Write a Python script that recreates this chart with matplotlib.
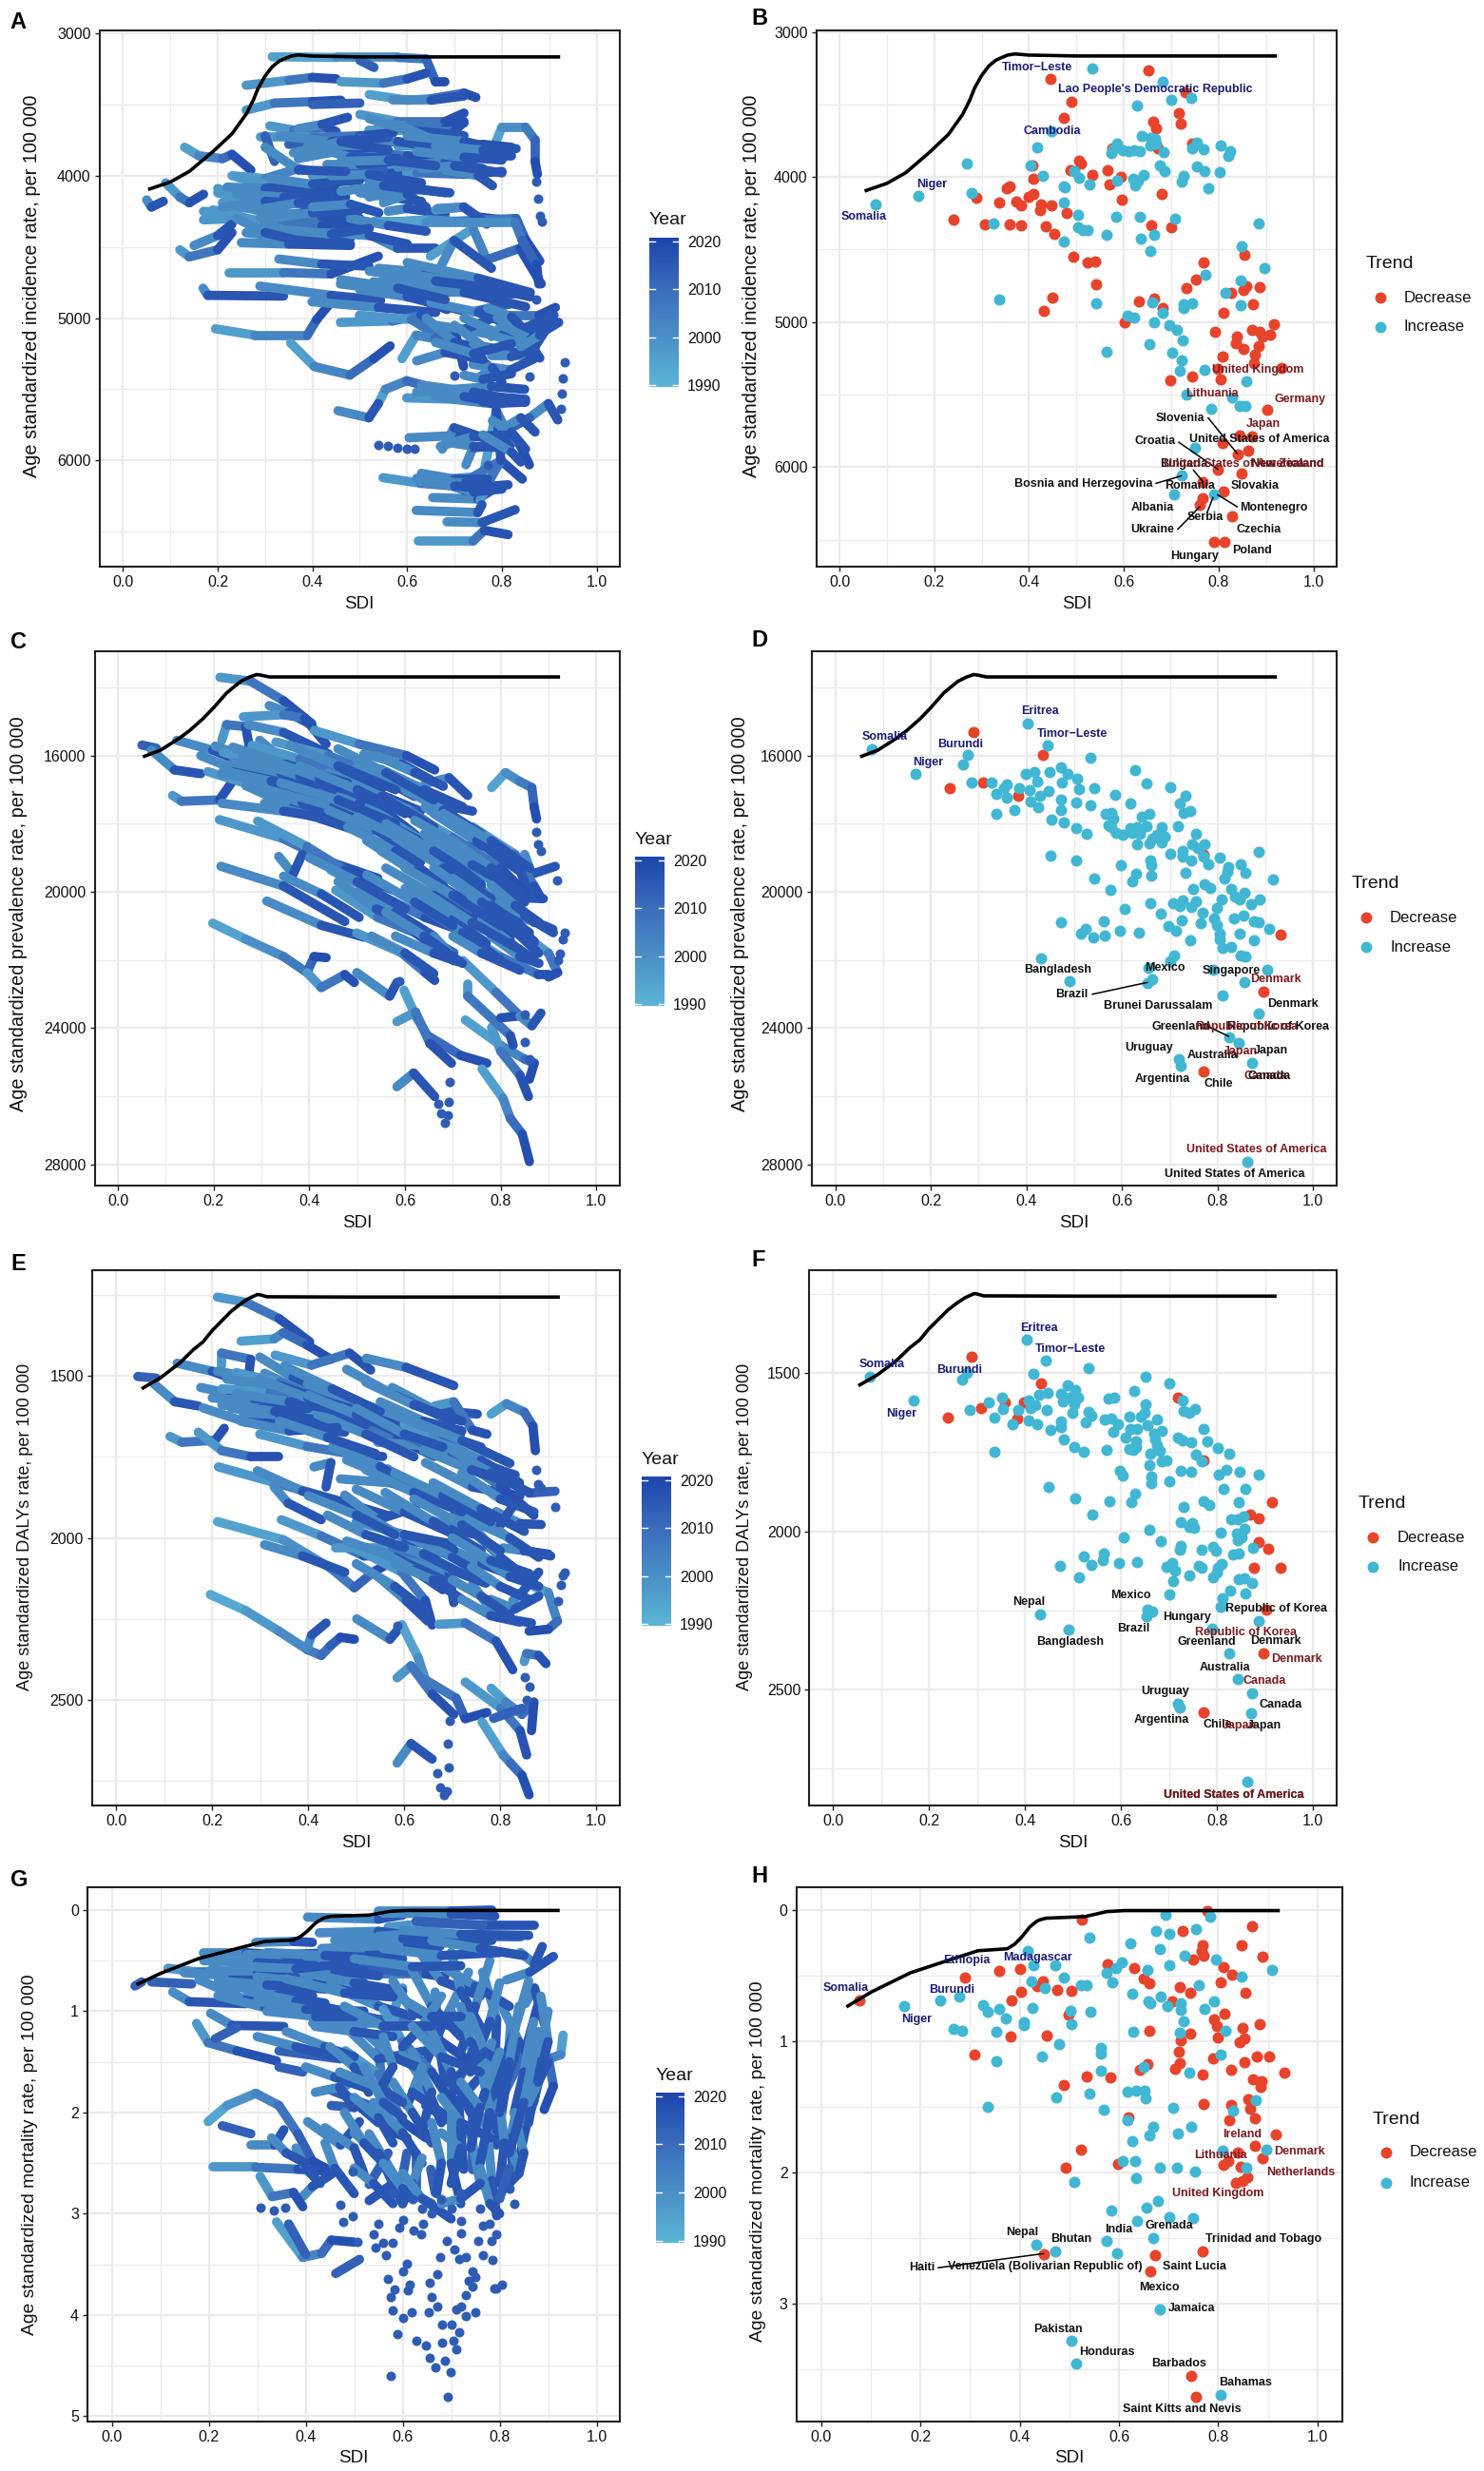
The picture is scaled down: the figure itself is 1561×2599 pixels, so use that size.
import numpy as np
import matplotlib
matplotlib.use('Agg')
import matplotlib.pyplot as plt
from matplotlib.collections import LineCollection
from matplotlib.colors import LinearSegmentedColormap, Normalize
from matplotlib.cm import ScalarMappable
from matplotlib.lines import Line2D

plt.rcParams['font.family'] = ['Liberation Sans', 'DejaVu Sans']

# black fitted curves, one per burden measure
curve_inc = [(.053,4097),(.10,4044),(.14,3970),(.19,3830),(.23,3706),(.26,3568),(.275,3470),(.285,3388),(.30,3300),(.315,3235),(.33,3195),(.34,3180),(.355,3160),(.37,3152),(.40,3160),(.50,3166),(.923,3166)]
curve_prev = [(.052,16035),(.089,15840),(.128,15490),(.15,15260),(.178,14910),(.20,14590),(.227,14160),(.245,13950),(.257,13815),(.275,13690),(.29,13620),(.30,13640),(.316,13690),(.50,13690),(.924,13690)]
curve_daly = [(.053,1540),(.093,1505),(.132,1461),(.16,1420),(.181,1395),(.20,1360),(.22,1330),(.24,1300),(.26,1277),(.275,1262),(.294,1249),(.30,1250),(.314,1256),(.50,1257),(.924,1257)]
curve_mort = [(.051,.738),(.101,.625),(.18,.478),(.258,.381),(.316,.31),(.375,.295),(.39,.26),(.404,.206),(.42,.13),(.433,.089),(.44,.075),(.453,.062),(.531,.05),(.56,.025),(.575,.012),(.61,.004),(.924,.004)]

# country paths 1990 -> 2019 (SDI, rate)
traj_a = [
 [(.315,3165),(.45,3170),(.58,3170),(.64,3180),(.66,3340),(.68,3340)],
 [(.50,3190),(.53,3240)],
 [(.26,3365),(.35,3330),(.40,3310),(.45,3320)],
 [(.46,3340),(.55,3350),(.60,3320),(.64,3280)],
 [(.26,3540),(.32,3490),(.40,3480),(.46,3470)],
 [(.40,3500),(.50,3490)],
 [(.52,3430),(.60,3470),(.65,3460),(.72,3420),(.745,3450)],
 [(.57,3470),(.65,3470),(.72,3440)],
 [(.31,3650),(.36,3680),(.43,3660),(.45,3690)],
 [(.37,3670),(.42,3640),(.474,3590)],
 [(.50,3570),(.58,3620),(.68,3620),(.72,3560)],
 [(.54,3640),(.60,3650),(.68,3670),(.72,3630)],
 [(.52,3680),(.60,3680),(.70,3690),(.72,3620)],
 [(.78,3820),(.80,3660),(.85,3660),(.87,3750),(.87,3900),(.875,3990)],
 [(.29,3730),(.40,3730),(.50,3720),(.57,3700)],
 [(.58,3790),(.70,3800),(.76,3780),(.82,3800)],
 [(.70,3850),(.76,3860),(.82,3860)],
 [(.13,3800),(.16,3860),(.21,3880),(.23,3850),(.27,3960)],
 [(.30,3720),(.32,3900)],
 [(.35,3780),(.42,3770)],
 [(.40,3840),(.50,3830),(.60,3860),(.65,3870)],
 [(.52,3950),(.62,3980),(.72,3990),(.80,3970)],
 [(.40,4000),(.50,4000),(.58,3980)],
 [(.23,4000),(.30,4020),(.37,3950),(.43,3990),(.50,3950)],
 [(.45,3930),(.55,3960)],
 [(.24,4010),(.34,4090),(.40,4110),(.45,4100)],
 [(.40,3990),(.50,4010),(.57,4020),(.63,4050)],
 [(.52,4050),(.60,4080),(.68,4120)],
 [(.68,3960),(.75,4000),(.78,4070)],
 [(.09,4050),(.12,4150),(.14,4190),(.17,4130)],
 [(.05,4170),(.06,4220),(.085,4180)],
 [(.17,4250),(.22,4260),(.28,4100),(.36,4060)],
 [(.20,4090),(.25,4150),(.32,4200),(.42,4110)],
 [(.22,4150),(.30,4240),(.36,4280),(.43,4220)],
 [(.28,4210),(.38,4300),(.46,4280)],
 [(.17,4310),(.25,4300),(.32,4330),(.50,4340)],
 [(.53,4320),(.60,4320),(.66,4310)],
 [(.30,4350),(.40,4430),(.48,4480)],
 [(.25,4470),(.35,4480),(.48,4490)],
 [(.15,4490),(.20,4420),(.23,4340)],
 [(.12,4520),(.14,4570),(.20,4520),(.23,4400)],
 [(.53,4430),(.58,4510),(.66,4510)],
 [(.56,4250),(.60,4230),(.68,4270)],
 [(.66,4240),(.72,4220),(.75,4290),(.83,4320)],
 [(.53,4330),(.65,4310),(.70,4320),(.83,4300),(.85,4450),(.88,4600)],
 [(.195,5075),(.279,5120),(.389,5120),(.409,5010),(.434,4910)],
 [(.354,5175),(.404,5340),(.479,5400),(.529,5285),(.564,5195)],
 [(.169,4790),(.179,4840),(.339,4845)],
 [(.224,4680),(.339,4680),(.439,4690),(.539,4565)],
 [(.329,4585),(.419,4620),(.519,4635)],
 [(.289,4775),(.439,4840),(.544,4875)],
 [(.459,4760),(.589,4815),(.684,4940)],
 [(.539,4650),(.639,4680),(.788,4790)],
 [(.529,4745),(.689,4815),(.848,4830)],
 [(.399,4885),(.539,4925),(.66,4960)],
 [(.459,5030),(.569,5020),(.629,4980),(.669,5175)],
 [(.499,4980),(.609,5010),(.689,5175),(.768,5325)],
 [(.589,5285),(.619,5120),(.659,5145),(.699,5065),(.719,5340)],
 [(.739,4955),(.818,4900)],
 [(.778,5130),(.818,4980),(.878,4980),(.913,4925)],
 [(.699,5065),(.798,5130),(.858,5130)],
 [(.778,5260),(.858,5260),(.908,5005)],
 [(.739,5325),(.818,5365),(.868,5285)],
 [(.858,5700),(.898,5600),(.918,5715)],
 [(.828,5755),(.858,5700)],
 [(.649,4565),(.739,4370),(.768,4590),(.838,4510),(.883,4760)],
 [(.669,4650),(.699,4455),(.778,4650)],
 [(.664,4230),(.719,4220),(.768,4340)],
 [(.529,4330),(.639,4330),(.828,4330),(.843,4455),(.873,4620),(.878,4760)],
 [(.539,5600),(.554,5500),(.599,5440),(.689,5520),(.739,5495)],
 [(.454,5650),(.519,5700),(.539,5600)],
 [(.599,5560),(.699,5570),(.778,5600),(.848,5590)],
 [(.62,5520),(.778,5480),(.848,5500)],
 [(.604,5840),(.699,5825),(.818,5840)],
 [(.674,5920),(.699,5770),(.778,5860)],
 [(.724,6030),(.739,5910),(.818,5890)],
 [(.763,6060),(.788,5650),(.808,5780),(.838,5890),(.858,6030)],
 [(.549,6120),(.629,6160),(.739,6190),(.813,6170)],
 [(.629,6145),(.739,6115),(.798,6000),(.843,6130)],
 [(.654,6260),(.749,6270),(.778,6210)],
 [(.754,6280),(.778,6115),(.798,6000),(.788,5650)],
 [(.619,6350),(.749,6365),(.758,6310)],
 [(.684,6430),(.758,6435),(.828,6345)],
 [(.624,6565),(.739,6565),(.763,6490),(.813,6520)],
 [(.20,4120),(.30,4200),(.40,4180),(.47,4150)],
 [(.21,4190),(.32,4270),(.42,4290),(.50,4300)],
 [(.24,4230),(.35,4200),(.44,4170)],
 [(.19,4240),(.30,4330),(.42,4350),(.52,4340)],
 [(.30,4340),(.38,4420),(.48,4440)],
 [(.26,4160),(.33,4110),(.39,4080)],
 [(.29,4290),(.38,4260),(.44,4250)],
 [(.31,4020),(.40,4060),(.50,4030)],
 [(.44,4000),(.52,3990),(.60,4040)],
 [(.37,3880),(.45,3830),(.52,3800)],
 [(.39,3790),(.48,3870),(.58,3880)],
 [(.44,3790),(.52,3790),(.57,3760)],
 [(.50,3740),(.58,3760),(.67,3800)],
 [(.52,3600),(.60,3680),(.72,3720)],
 [(.58,3640),(.65,3740),(.72,3780)],
 [(.43,3920),(.50,3920),(.57,3900)],
 [(.58,3940),(.68,3900),(.76,3950)],
 [(.63,3950),(.70,3930),(.80,3980)],
 [(.50,4120),(.56,4150),(.63,4180)],
 [(.52,4150),(.60,4090),(.69,4120)],
 [(.55,4190),(.60,4130),(.64,4220)],
 [(.48,4300),(.56,4350),(.64,4390)],
 [(.42,4400),(.52,4420),(.60,4480)],
 [(.50,4800),(.60,4850),(.72,4950)],
 [(.55,4720),(.68,4760),(.82,4830)],
 [(.58,4680),(.72,4750),(.86,4850)],
 [(.60,4780),(.72,4820),(.85,4920)],
 [(.65,4890),(.75,4960),(.82,5050)],
 [(.66,5050),(.72,5080),(.78,5000)],
 [(.64,5000),(.70,5170),(.74,5200)],
 [(.70,5050),(.76,5200),(.83,5240)],
 [(.72,5000),(.80,5120),(.88,5100)],
 [(.78,5120),(.84,5180),(.90,5020)],
 [(.80,5200),(.85,5130),(.88,5280)],
 [(.74,5180),(.82,5270),(.87,5210)],
 [(.79,5000),(.84,5080),(.91,4980)],
 [(.77,4930),(.82,4990),(.85,5090)],
 [(.63,6090),(.70,6130),(.77,6130)],
 [(.63,6130),(.72,6160),(.76,6170)],
 [(.64,6160),(.72,6170),(.78,6180)],
 [(.66,5510),(.74,5540),(.85,5570)],
 [(.63,5470),(.74,5520),(.85,5590)],
 [(.66,5550),(.76,5590),(.82,5560)],
 [(.75,5420),(.78,5350),(.80,5450)],
 [(.72,5400),(.76,5430),(.82,5390)],
 [(.80,5780),(.84,5700),(.87,5800)],
 [(.78,5720),(.82,5800),(.85,5920)],
 [(.70,5880),(.74,5900),(.80,5910)],
 [(.33,3720),(.44,3760),(.56,3730)],
 [(.36,3840),(.46,3760),(.56,3820)],
 [(.30,3800),(.37,3960),(.47,3970)],
 [(.46,3900),(.56,3890),(.66,3930)],
 [(.60,3720),(.72,3760),(.82,3830)],
 [(.66,3790),(.76,3820),(.83,3810)],
 [(.62,3830),(.72,3870),(.80,3890)],
 [(.22,4080),(.30,4090),(.36,4140)],
 [(.24,4130),(.34,4150),(.44,4130)],
 [(.21,4220),(.30,4180),(.41,4200)],
 [(.28,4240),(.37,4190),(.46,4220)],
 [(.31,4300),(.40,4260),(.50,4240)],
 [(.26,4400),(.38,4440),(.47,4470)],
 [(.34,4380),(.44,4410),(.52,4370)],
 [(.24,4300),(.30,4400),(.40,4480)],
 [(.46,4110),(.55,4070),(.62,4100)],
 [(.40,4220),(.48,4200),(.54,4260)],
 [(.60,4610),(.75,4720),(.86,4820)],
 [(.52,4670),(.66,4740),(.78,4790)],
 [(.46,4730),(.58,4790),(.68,4870)],
 [(.62,5300),(.68,5240),(.76,5290)],
 [(.66,5170),(.74,5250),(.82,5180)],
 [(.80,5050),(.86,5150),(.92,5030)],
 [(.84,5200),(.88,5120),(.90,5040)],
 [(.64,6100),(.72,6210),(.80,6180)],
 [(.66,6150),(.74,6220),(.80,6200)],
 [(.62,6125),(.70,6180),(.78,6195)],
 [(.67,5900),(.74,5830),(.82,5820)],
 [(.76,5820),(.82,5940),(.84,6010)],
 [(.64,5490),(.72,5550),(.80,5600)],
]
dots_a = [(.876,4160),(.873,4040),(.885,4320),(.88,4280),(.926,5530),(.933,5310),(.928,5420),(.924,5640),(.873,4870),(.858,5410),(.699,5400),(.77,6030),
          (.539,5890),(.56,5900),(.58,5910),(.599,5920),(.615,5920)]

# panel C
traj_c = [
 [(.213,13700),(.277,13815),(.346,14390),(.405,15060)],
 [(.316,14530),(.356,14740),(.405,15100)],
 [(.262,14860),(.346,14800),(.39,14900),(.435,15660)],
 [(.217,15550),(.227,15090),(.267,15150),(.277,15950)],
 [(.272,15090),(.346,15320),(.44,15950)],
 [(.41,15260),(.504,15660),(.603,16000),(.662,16420)],
 [(.514,15950),(.593,16240),(.652,16700)],
 [(.05,15690),(.08,15780)],
 [(.07,15840),(.118,16420),(.173,16530)],
 [(.123,15550),(.198,15840),(.272,16270)],
 [(.114,17170),(.133,17340),(.212,17300),(.242,16700)],
 [(.173,16000),(.247,16420),(.356,16820)],
 [(.203,15720),(.287,16130),(.395,16700)],
 [(.188,16470),(.296,16940),(.425,17510),(.524,18320)],
 [(.217,16530),(.346,16820),(.514,16990)],
 [(.395,16130),(.514,16940),(.632,17630)],
 [(.296,15550),(.366,16360),(.464,16940)],
 [(.306,15900),(.405,16590),(.514,17170),(.622,18320)],
 [(.395,16530),(.504,17400),(.622,18380)],
 [(.267,16880),(.366,17510),(.504,18210)],
 [(.306,17400),(.425,17860),(.524,18320)],
 [(.217,17400),(.346,17630),(.445,17860)],
 [(.573,16650),(.662,17400),(.741,17630)],
 [(.642,16820),(.692,16650),(.731,17170)],
 [(.524,17050),(.613,17630),(.721,18670),(.781,18670)],
 [(.524,17510),(.642,18550),(.771,19360)],
 [(.445,17280),(.543,18090),(.632,19130)],
 [(.642,17510),(.741,18440),(.82,19020)],
 [(.652,18090),(.741,18900),(.82,19830)],
 [(.563,17860),(.662,18790),(.761,19600)],
 [(.781,16940),(.81,16500),(.84,16760),(.865,16940),(.87,17510),(.875,17860)],
 [(.212,17880),(.346,18440),(.445,19130),(.543,19600)],
 [(.292,17920),(.395,18670),(.474,19360),(.573,19940)],
 [(.336,18960),(.366,19480),(.385,18900)],
 [(.346,19540),(.425,20060),(.504,20750)],
 [(.215,19250),(.346,19830),(.474,20870)],
 [(.311,20270),(.425,20980),(.514,21330)],
 [(.198,20920),(.267,21390),(.346,21900),(.395,22370),(.41,21900),(.435,21930)],
 [(.395,22370),(.425,22810),(.474,22430),(.494,22660)],
 [(.499,22370),(.568,23060),(.583,22660)],
 [(.598,22890),(.622,23640),(.647,24220),(.716,24800),(.771,25030)],
 [(.583,23810),(.622,23530),(.652,24450),(.697,25030)],
 [(.583,25720),(.618,25320),(.662,26010)],
 [(.761,25200),(.805,26070),(.82,26650),(.845,27110),(.86,27920)],
 [(.726,23760),(.80,24510),(.85,24910),(.87,25030),(.86,25500)],
 [(.781,23980),(.80,24680),(.84,25380),(.858,26010)],
 [(.731,22720),(.731,23060),(.82,24220),(.826,24500)],
 [(.721,22020),(.79,22950),(.84,23640),(.80,23700)],
 [(.84,23640),(.865,23930),(.884,23560)],
 [(.86,21390),(.90,21800),(.919,22370),(.90,22500)],
 [(.81,20640),(.87,20870),(.909,21100)],
 [(.79,20060),(.84,20170),(.889,20200)],
 [(.751,21450),(.80,21910),(.879,22430),(.90,22430)],
 [(.85,18900),(.865,19480),(.914,19250)],
 [(.445,19360),(.543,20060),(.642,20750),(.731,21210)],
 [(.455,19950),(.543,20750),(.622,21210),(.702,22020)],
 [(.499,21210),(.593,21790),(.642,22370),(.662,22600)],
 [(.603,20980),(.702,21790)],
 [(.622,19830),(.702,20400),(.79,21210),(.83,21210)],
 [(.662,19130),(.741,20060),(.83,20760)],
 [(.70,20060),(.79,20640),(.87,21450)],
 [(.741,18090),(.83,18900),(.87,19830),(.885,20200)],
 [(.781,18670),(.84,19360),(.86,20060)],
 [(.741,20060),(.80,20760),(.879,21800)],
 [(.296,16940),(.385,17400),(.50,18000)],
 [(.60,17600),(.70,18400),(.80,19300),(.85,20000)],
 [(.55,18800),(.65,19700),(.75,20700),(.82,21400)],
 [(.22,15900),(.32,16300),(.42,16800),(.50,17050)],
 [(.24,16200),(.34,16500),(.45,17000)],
 [(.28,15700),(.38,16100),(.47,16600),(.55,17000)],
 [(.33,15600),(.44,16000),(.53,16500),(.62,17200)],
 [(.30,16700),(.40,17300),(.52,17900)],
 [(.33,17000),(.45,17500),(.55,18100)],
 [(.42,17100),(.52,17700),(.63,18500)],
 [(.44,16500),(.55,17200),(.66,18100)],
 [(.50,16300),(.60,16900),(.70,17700)],
 [(.55,16400),(.64,17000),(.72,17500)],
 [(.60,17000),(.68,17600),(.76,18300)],
 [(.62,17900),(.72,18700),(.80,19500)],
 [(.66,17700),(.75,18500),(.84,19400)],
 [(.70,18500),(.78,19300),(.85,20300)],
 [(.72,19000),(.80,19900),(.87,20900)],
 [(.48,18100),(.58,18800),(.68,19800)],
 [(.52,18500),(.62,19400),(.72,20200)],
 [(.56,19300),(.66,20100),(.76,21000)],
 [(.60,19900),(.70,20800),(.77,21500)],
 [(.63,20400),(.72,21200),(.80,22000)],
 [(.74,19700),(.82,20600),(.87,21500)],
 [(.76,20800),(.82,21500),(.87,22000)],
 [(.80,20300),(.85,20700),(.91,21200)],
 [(.78,21300),(.84,21900),(.88,22100)],
 [(.50,20000),(.58,20600),(.66,21300)],
 [(.40,19000),(.50,19700),(.60,20500)],
 [(.66,21300),(.70,21900),(.72,22100)],
 [(.58,21300),(.66,21800),(.71,22050)],
 [(.53,21300),(.60,21800),(.66,22400)],
 [(.24,15750),(.35,16250),(.48,16800)],
 [(.26,16050),(.38,16600),(.50,17100)],
 [(.22,16450),(.32,16750),(.44,17200)],
 [(.30,16050),(.42,16650),(.56,17500)],
 [(.36,15700),(.46,16300),(.58,17000)],
 [(.34,16800),(.46,17300),(.58,18000)],
 [(.38,16300),(.50,17000),(.60,17700)],
 [(.46,15800),(.56,16500),(.66,17300)],
 [(.54,16000),(.62,16500),(.68,16900)],
 [(.44,17600),(.54,18200),(.64,19000)],
 [(.50,17800),(.60,18500),(.70,19300)],
 [(.56,18000),(.66,18800),(.76,19800)],
 [(.58,18400),(.68,19300),(.78,20200)],
 [(.64,18300),(.74,19200),(.84,20000)],
 [(.68,17700),(.78,18500),(.86,19300)],
 [(.70,19600),(.78,20400),(.86,21200)],
 [(.66,19300),(.76,20300),(.84,21200)],
 [(.60,19300),(.70,20100),(.80,21000)],
 [(.64,20000),(.74,20900),(.84,21700)],
 [(.52,19500),(.62,20300),(.70,21000)],
 [(.46,19700),(.54,20500),(.62,21000)],
 [(.56,20600),(.64,21300),(.70,21900)],
 [(.70,21300),(.76,21800),(.84,22300)],
 [(.78,19800),(.83,20400),(.88,20900)],
]
dots_c = [(.875,18240),(.878,18610),(.884,18790),(.917,19650),(.923,21800),(.929,21390),(.934,21200),(.587,22610),(.67,26220),(.675,26510),(.69,26570),(.684,26790),(.693,25590),(.691,26160),(.85,23600),(.85,24400),(.86,24900),(.92,22000)]

# panel E
traj_e = [
 [(.211,1257),(.27,1273),(.339,1323),(.403,1395)],
 [(.26,1393),(.329,1386),(.348,1367),(.398,1405),(.447,1449)],
 [(.22,1467),(.22,1430),(.28,1449),(.275,1511)],
 [(.331,1436),(.407,1467),(.486,1430),(.53,1482)],
 [(.521,1446),(.604,1474),(.703,1530)],
 [(.045,1502),(.083,1507)],
 [(.078,1524),(.122,1580),(.171,1593)],
 [(.127,1461),(.20,1486),(.275,1528)],
 [(.112,1687),(.137,1705),(.206,1699),(.225,1662)],
 [(.171,1674),(.22,1731),(.28,1749),(.339,1749)],
 [(.176,1536),(.24,1555),(.348,1593)],
 [(.20,1568),(.289,1580),(.363,1599)],
 [(.211,1486),(.309,1511),(.398,1580)],
 [(.299,1442),(.368,1505),(.506,1593)],
 [(.309,1492),(.398,1555),(.506,1618)],
 [(.398,1524),(.506,1593),(.585,1649)],
 [(.265,1618),(.368,1655),(.476,1674)],
 [(.181,1599),(.27,1643),(.427,1655)],
 [(.299,1680),(.398,1718),(.496,1743),(.555,1749)],
 [(.368,1605),(.467,1630),(.585,1693),(.663,1749)],
 [(.526,1593),(.624,1643),(.717,1680)],
 [(.575,1536),(.663,1605),(.752,1618)],
 [(.663,1593),(.703,1580),(.742,1668),(.772,1680)],
 [(.545,1705),(.663,1718),(.752,1768)],
 [(.654,1687),(.752,1768),(.831,1806)],
 [(.781,1618),(.813,1586),(.85,1612),(.868,1655),(.873,1731)],
 [(.213,1781),(.348,1837),(.467,1887),(.565,1931)],
 [(.294,1793),(.388,1856),(.506,1906)],
 [(.412,1781),(.447,1768),(.437,1843)],
 [(.467,1818),(.575,1831),(.663,1881)],
 [(.565,1787),(.624,1843),(.762,1918)],
 [(.644,1768),(.742,1843),(.831,1868)],
 [(.693,1749),(.781,1818),(.85,1906)],
 [(.329,1843),(.358,1893),(.427,1944)],
 [(.211,1950),(.348,2006),(.447,2094),(.496,2154),(.535,2106),(.565,2081)],
 [(.309,2021),(.388,2056),(.476,2106)],
 [(.344,1944),(.427,1994),(.516,2056),(.693,2044)],
 [(.457,2031),(.575,2031),(.644,2081),(.693,2157)],
 [(.476,1868),(.545,1944),(.624,1906)],
 [(.496,2031),(.595,2106),(.644,2194),(.658,2269)],
 [(.545,2119),(.604,2194),(.649,2257)],
 [(.196,2175),(.27,2225),(.339,2288),(.398,2345),(.427,2363),(.447,2332),(.467,2307),(.496,2313)],
 [(.398,2338),(.407,2300),(.437,2263)],
 [(.501,2250),(.57,2313),(.595,2269)],
 [(.595,2269),(.629,2370),(.644,2438),(.708,2495),(.727,2558),(.772,2539)],
 [(.585,2432),(.614,2395),(.658,2482),(.703,2545)],
 [(.585,2695),(.614,2635),(.658,2683)],
 [(.762,2568),(.806,2670),(.821,2695),(.845,2733),(.86,2793)],
 [(.727,2445),(.801,2526),(.841,2595),(.855,2670)],
 [(.781,2464),(.811,2507),(.845,2545),(.87,2507),(.865,2595)],
 [(.786,2557),(.845,2526)],
 [(.672,2267),(.727,2263),(.791,2319),(.826,2407)],
 [(.85,2382),(.855,2357),(.88,2363),(.895,2388)],
 [(.87,2150),(.90,2169),(.919,2257),(.90,2282),(.86,2288)],
 [(.806,2031),(.87,2044),(.905,2056)],
 [(.791,1919),(.841,1956),(.885,1959)],
 [(.742,2144),(.791,2244),(.865,2263)],
 [(.826,2194),(.85,2160),(.88,2106)],
 [(.86,1862),(.914,1856)],
 [(.72,1931),(.80,1960),(.841,1870)],
 [(.692,2031),(.762,2081),(.831,2119)],
 [(.703,1931),(.772,2019),(.831,2106)],
 [(.604,1919),(.703,1969),(.742,1988)],
 [(.535,1944),(.604,2006),(.703,2037)],
 [(.595,2069),(.693,2106),(.703,2200)],
 [(.60,1650),(.70,1740),(.80,1840),(.87,1930)],
 [(.74,1960),(.80,2060),(.87,2140)],
 [(.22,1540),(.32,1550),(.42,1590),(.48,1620)],
 [(.24,1600),(.34,1620),(.44,1640)],
 [(.25,1490),(.34,1520),(.44,1580),(.53,1620)],
 [(.35,1470),(.45,1540),(.55,1610)],
 [(.22,1590),(.30,1600),(.37,1610)],
 [(.42,1620),(.52,1680),(.62,1750)],
 [(.44,1580),(.55,1650),(.66,1720)],
 [(.48,1480),(.58,1560),(.70,1640)],
 [(.55,1580),(.64,1640),(.72,1670)],
 [(.60,1680),(.70,1740),(.80,1790)],
 [(.66,1690),(.76,1760),(.84,1830)],
 [(.70,1730),(.78,1800),(.86,1860)],
 [(.72,1800),(.80,1880),(.87,1920)],
 [(.48,1760),(.58,1820),(.68,1890)],
 [(.50,1850),(.60,1920),(.72,2000)],
 [(.56,1860),(.66,1950),(.76,2040)],
 [(.60,1990),(.70,2060),(.78,2130)],
 [(.62,2040),(.70,2100),(.77,2140)],
 [(.48,2010),(.58,2060),(.68,2130)],
 [(.55,2040),(.62,2100),(.68,2160)],
 [(.50,2080),(.58,2150),(.65,2230)],
 [(.76,2060),(.82,2120),(.88,2150)],
 [(.80,1980),(.85,2040),(.90,2050)],
 [(.76,1960),(.82,2000),(.88,2060)],
 [(.78,2190),(.83,2220),(.88,2180)],
 [(.70,2130),(.76,2180),(.82,2240)],
 [(.45,1720),(.55,1780),(.62,1850)],
 [(.23,1510),(.34,1530),(.46,1590)],
 [(.25,1555),(.36,1580),(.48,1610)],
 [(.23,1590),(.33,1610),(.40,1600)],
 [(.26,1640),(.36,1670),(.46,1660)],
 [(.30,1510),(.40,1570),(.52,1650)],
 [(.40,1560),(.50,1620),(.60,1680)],
 [(.34,1640),(.44,1690),(.54,1740)],
 [(.50,1600),(.60,1680),(.68,1720)],
 [(.52,1520),(.62,1590),(.72,1640)],
 [(.58,1620),(.68,1680),(.76,1720)],
 [(.62,1640),(.72,1700),(.82,1770)],
 [(.64,1730),(.74,1790),(.84,1840)],
 [(.52,1790),(.62,1860),(.72,1920)],
 [(.58,1800),(.68,1870),(.78,1950)],
 [(.62,1880),(.72,1960),(.80,2040)],
 [(.66,1830),(.76,1910),(.85,1980)],
 [(.50,1950),(.60,1990),(.70,2020)],
 [(.54,2000),(.64,2050),(.72,2110)],
 [(.58,2080),(.66,2130),(.72,2190)],
 [(.70,2000),(.78,2070),(.86,2110)],
 [(.74,2090),(.80,2150),(.86,2190)],
 [(.72,2190),(.78,2240),(.84,2260)],
 [(.44,1930),(.52,1990),(.60,2030)],
 [(.40,1870),(.50,1930),(.58,1990)],
]
dots_e = [(.875,1790),(.878,1833),(.884,1845),(.915,1905),(.92,2195),(.926,2144),(.934,2106),(.93,2115),(.585,2270),(.668,2725),(.674,2770),(.688,2783),(.682,2793),(.693,2710),(.691,2635),(.694,2565),(.85,2430),(.86,2460),(.855,2500)]

# panel G
traj_g = [
 [(.404,.07),(.55,.09),(.60,.05)],
 [(.55,.01),(.70,.01),(.784,0)],
 [(.56,.03),(.70,.04),(.79,.06)],
 [(.57,.17),(.648,.13),(.76,.15),(.872,.15)],
 [(.428,.225),(.55,.21),(.628,.256)],
 [(.628,.11),(.765,.15)],
 [(.297,.32),(.375,.31),(.414,.32)],
 [(.745,.26),(.843,.264)],
 [(.189,.42),(.277,.42),(.394,.466)],
 [(.277,.44),(.355,.44),(.58,.40)],
 [(.404,.478),(.531,.41),(.677,.36)],
 [(.433,.38),(.61,.34),(.784,.30)],
 [(.55,.26),(.648,.22),(.77,.28)],
 [(.048,.75),(.062,.71)],
 [(.082,.71),(.165,.73)],
 [(.116,.575),(.18,.614),(.277,.614),(.277,.67)],
 [(.126,.81),(.16,.905),(.277,.925)],
 [(.18,.69),(.277,.886),(.414,.847)],
 [(.209,.575),(.316,.73),(.414,.847)],
 [(.277,.575),(.394,.69),(.55,.77)],
 [(.384,.614),(.531,.633),(.648,.633),(.687,.66)],
 [(.511,.575),(.628,.614)],
 [(.219,.847),(.316,.963),(.414,.983)],
 [(.355,.886),(.472,1.0),(.57,1.1)],
 [(.453,1.08),(.57,1.08)],
 [(.204,1.02),(.248,1.14),(.355,1.15)],
 [(.175,1.12),(.199,1.31),(.258,1.39),(.34,1.49)],
 [(.214,1.27),(.258,1.16)],
 [(.345,1.39),(.472,1.47)],
 [(.345,1.55),(.394,1.6)],
 [(.414,1.12),(.55,1.12),(.648,1.16)],
 [(.199,2.09),(.238,1.93),(.297,1.81),(.345,1.93),(.384,2.21),(.414,2.48),(.453,2.58)],
 [(.209,2.54),(.297,2.54),(.384,2.56),(.453,2.58)],
 [(.394,2.83),(.414,2.73),(.453,2.61)],
 [(.306,2.63),(.331,2.83),(.375,2.79),(.394,2.93)],
 [(.34,3.08),(.394,3.43),(.433,3.39),(.453,3.26),(.501,3.28)],
 [(.365,3.1),(.40,3.40)],
 [(.462,3.59),(.511,3.45)],
 [(.228,2.13),(.287,2.21)],
 [(.287,2.32),(.336,2.32),(.355,2.17)],
 [(.60,.77),(.55,1.39),(.57,2.17),(.609,2.25)],
 [(.482,1.39),(.55,1.62),(.60,2.09),(.648,2.25)],
 [(.492,1.2),(.55,1.47),(.648,1.39)],
 [(.453,1.78),(.531,1.93)],
 [(.404,2.09),(.472,2.32),(.511,2.09)],
 [(.453,1.93),(.501,1.95)],
 [(.531,2.21),(.589,2.67),(.531,2.87)],
 [(.609,2.4),(.60,2.63)],
 [(.628,2.4),(.628,2.79)],
 [(.658,2.56),(.667,2.79)],
 [(.57,2.4),(.531,2.71)],
 [(.667,.81),(.677,1.39),(.706,2.25)],
 [(.736,.614),(.687,1.08),(.609,1.93)],
 [(.765,.614),(.794,1.08),(.784,2.17)],
 [(.706,2.28),(.765,2.09),(.804,1.86),(.853,1.39),(.882,.886)],
 [(.814,.69),(.862,.614),(.911,.458)],
 [(.843,.42),(.872,.53),(.888,.36)],
 [(.853,.925),(.872,.77),(.892,1.12)],
 [(.931,1.235),(.926,1.43),(.901,1.47),(.911,1.74),(.892,1.97)],
 [(.892,1.31),(.872,1.86),(.853,2.17),(.843,2.4)],
 [(.823,1.12),(.814,1.7),(.794,2.32)],
 [(.843,1.78),(.823,2.25),(.828,2.63)],
 [(.775,2.17),(.784,2.67),(.794,3.02)],
 [(.745,1.93),(.745,2.56)],
 [(.687,1.78),(.716,1.93),(.726,2.56)],
 [(.628,1.55),(.648,1.93),(.726,2.17)],
 [(.511,1.62),(.472,1.78),(.55,2.1)],
 [(.70,1.0),(.745,1.39),(.697,1.86)],
 [(.784,1.31),(.765,1.62),(.706,1.93)],
 [(.60,1.4),(.65,1.75),(.68,2.1)],
 [(.52,.85),(.60,1.1),(.68,1.3),(.74,1.5)],
 [(.80,.90),(.84,1.3),(.80,1.9)],
 [(.66,.50),(.75,.75),(.82,.95)],
 [(.50,2.2),(.55,2.4),(.60,2.9)],
 [(.44,2.15),(.50,2.35),(.52,2.6)],
 [(.74,2.2),(.76,2.7),(.80,2.85)],
 [(.82,2.3),(.84,2.6),(.80,2.8)],
 [(.15,.62),(.25,.65),(.35,.72)],
 [(.20,.60),(.30,.60),(.38,.66)],
 [(.28,.50),(.40,.56),(.52,.60)],
 [(.30,.66),(.42,.72),(.52,.72)],
 [(.35,.55),(.46,.60),(.55,.65)],
 [(.24,.74),(.34,.84),(.44,.92)],
 [(.28,.80),(.38,.90),(.48,1.0)],
 [(.40,.62),(.50,.72),(.60,.80)],
 [(.45,.75),(.55,.95),(.62,1.05)],
 [(.32,1.0),(.42,1.05),(.50,1.05)],
 [(.36,1.2),(.44,1.35),(.50,1.45)],
 [(.30,1.25),(.38,1.35),(.46,1.45)],
 [(.40,1.55),(.46,1.65),(.52,1.75)],
 [(.42,1.8),(.47,1.75),(.50,1.95)],
 [(.45,1.35),(.50,1.55),(.53,1.8)],
 [(.56,.98),(.60,1.3),(.66,1.6),(.70,1.9)],
 [(.58,.70),(.62,1.0),(.70,1.15)],
 [(.62,.60),(.66,.95),(.72,1.25)],
 [(.64,.45),(.68,.70),(.76,.85)],
 [(.70,.42),(.72,.80),(.76,1.15)],
 [(.78,.50),(.75,.95),(.72,1.4)],
 [(.80,.72),(.78,1.1),(.74,1.6)],
 [(.86,.70),(.83,1.2),(.79,1.8)],
 [(.87,1.1),(.85,1.6),(.83,2.0)],
 [(.90,1.0),(.88,1.5),(.86,2.1)],
 [(.885,.85),(.90,1.3),(.87,1.9)],
 [(.66,1.2),(.70,1.6),(.74,2.0)],
 [(.62,1.4),(.66,1.8),(.64,2.2)],
 [(.58,1.7),(.62,2.0),(.66,2.3)],
 [(.54,1.9),(.60,2.2),(.64,2.5)],
 [(.48,2.0),(.52,2.3),(.56,2.5)],
 [(.70,2.0),(.70,2.5),(.72,2.9)],
 [(.66,2.1),(.68,2.5),(.67,2.8)],
 [(.64,2.45),(.62,2.7),(.60,2.9)],
 [(.76,1.5),(.78,2.0),(.76,2.5)],
 [(.80,1.9),(.81,2.3),(.80,2.7)],
 [(.83,2.0),(.85,2.4),(.84,2.6)],
 [(.86,1.9),(.88,1.7),(.90,1.5)],
 [(.72,.95),(.74,1.3),(.80,1.5)],
 [(.68,.85),(.64,1.15),(.60,1.35)],
 [(.76,2.55),(.78,2.9),(.80,3.0)],
 [(.56,2.5),(.60,2.75),(.66,2.9)],
 [(.50,2.55),(.54,2.7),(.58,2.9)],
 [(.44,2.3),(.46,2.55),(.50,2.8)],
 [(.38,2.35),(.40,2.55),(.43,2.7)],
 [(.33,2.25),(.36,2.4),(.40,2.5)],
 [(.60,2.6),(.64,2.85),(.70,3.05)],
 [(.68,2.9),(.72,2.85),(.76,2.7)],
 [(.82,2.55),(.80,2.85)],
 [(.68,1.85),(.72,2.1),(.78,2.25)],
 [(.60,.88),(.66,1.05),(.72,1.05)],
 [(.52,1.2),(.58,1.45),(.63,1.55)],
 [(.47,1.6),(.55,1.75),(.60,1.9)],
 [(.19,.50),(.30,.52),(.42,.55)],
 [(.25,.55),(.38,.58),(.50,.52)],
 [(.32,.42),(.44,.45),(.60,.48)],
 [(.46,.30),(.60,.28),(.74,.34)],
 [(.60,.20),(.72,.24),(.86,.25)],
 [(.22,.70),(.32,.74),(.44,.78)],
 [(.36,.68),(.48,.82),(.58,.86)],
 [(.50,.48),(.62,.56),(.72,.55)],
 [(.56,.38),(.68,.45),(.80,.42)],
 [(.66,.30),(.76,.38),(.85,.45)],
 [(.30,.90),(.40,.98),(.52,1.0)],
 [(.42,1.15),(.50,1.2),(.58,1.25)],
 [(.48,.95),(.56,1.15),(.66,1.15)],
 [(.62,1.15),(.68,1.45),(.76,1.6)],
 [(.74,1.05),(.77,1.4),(.70,1.7)],
 [(.80,1.4),(.77,1.8),(.74,2.2)],
 [(.84,.95),(.82,1.5),(.80,2.0)],
 [(.88,1.2),(.85,1.9),(.82,2.4)],
 [(.64,1.55),(.62,1.8),(.68,2.0)],
 [(.56,1.25),(.58,1.55),(.55,1.8)],
 [(.52,1.55),(.56,1.9),(.60,2.05)],
 [(.50,1.85),(.55,2.05),(.58,2.3)],
 [(.72,1.7),(.76,1.95),(.74,2.35)],
 [(.68,2.2),(.72,2.35),(.70,2.7)],
]
dots_g = [(.58,3.95),(.589,4.19),(.60,4.03),(.619,3.97),(.628,4.25),(.648,4.3),(.656,4.42),(.667,4.52),(.687,4.45),(.699,4.56),(.693,4.81),(.575,4.6),(.575,3.82),(.584,3.75),(.611,3.76),(.609,3.49),(.60,3.57),(.57,3.64),(.614,3.7),(.656,3.68),(.672,3.6),(.66,3.82),(.653,3.97),(.672,3.92),(.682,4.09),(.682,4.27),(.701,4.09),(.711,4.34),(.704,4.25),(.716,4.17),(.721,3.92),(.711,3.94),(.75,3.97),(.731,4.01),(.731,3.8),(.745,3.72),(.736,3.66),(.745,3.57),(.75,3.62),(.789,3.74),(.804,3.7),(.794,3.74),(.731,3.43),(.677,3.43),(.706,3.35),(.716,3.45),(.786,3.46),(.765,3.41),(.755,3.27),(.784,3.27),(.794,3.2),(.765,3.12),(.721,3.19),(.721,3.07),(.692,3.27),(.58,3.29),(.56,3.29),(.565,3.41),(.545,3.33),(.638,3.2),(.623,3.16),(.643,3.1),(.55,3.1),(.54,3.2),(.497,3.02),(.477,3.08),(.472,2.91),(.506,3.28),(.60,3.06),(.594,3.14),(.306,2.94),(.334,2.97),(.358,2.94),(.497,2.58),(.64,2.95),(.66,3.0),(.68,2.85),(.70,2.95),(.72,2.8),(.76,2.95),(.78,3.1),(.82,2.75),(.83,2.9),(.62,2.85),(.58,2.8)]

# panel B, 2019 values by trend
inc_b = [(.534,3250),(.682,3343),(.742,3457),(.70,3470),(.627,3509),(.448,3683),(.637,3720),(.655,3729),(.666,3734),(.655,3783),(.585,3770),(.577,3810),(.573,3832),(.598,3816),(.61,3820),(.621,3813),(.633,3819),(.667,3770),(.684,3827),(.417,3794),(.745,3805),(.754,3761),(.768,3810),(.805,3783),(.825,3824),(.82,3857),(.268,3906),(.403,3919),(.675,3922),(.685,3957),(.754,3930),(.77,3957),(.803,3968),(.726,3990),(.723,4031),(.496,3957),(.506,4006),(.429,3993),(.527,4050),(.585,4023),(.619,4012),(.629,4023),(.642,3985),(.624,4056),(.473,4067),(.475,4074),(.779,4080),(.279,4110),(.473,4178),(.167,4131),(.077,4186),(.503,4263),(.583,4273),(.634,4275),(.708,4289),(.325,4319),(.503,4344),(.513,4368),(.524,4368),(.885,4319),(.564,4398),(.664,4400),(.635,4428),(.473,4447),(.655,4509),(.849,4474),(.897,4626),(.773,4672),(.847,4711),(.814,4795),(.337,4844),(.541,4871),(.659,4866),(.726,4879),(.726,4904),(.745,4868),(.846,4885),(.682,4939),(.607,4956),(.622,4970),(.663,5004),(.695,5018),(.712,5053),(.725,5129),(.653,5151),(.563,5203),(.702,5214),(.722,5265),(.718,5336),(.77,5328),(.859,5407),(.732,5499),(.829,5516),(.785,5600),(.844,5581),(.857,5576),(.751,5866),(.722,6057),(.707,6190),(.791,6190)]
dec_b = [(.651,3264),(.445,3326),(.73,3413),(.489,3484),(.473,3596),(.661,3617),(.668,3666),(.717,3563),(.721,3631),(.745,3772),(.575,3800),(.672,3800),(.408,3922),(.505,3887),(.509,3906),(.487,3952),(.533,3987),(.565,3952),(.593,4001),(.41,4014),(.569,4052),(.358,4063),(.353,4077),(.679,4115),(.41,4115),(.399,4134),(.289,4145),(.596,4156),(.336,4178),(.373,4170),(.384,4197),(.425,4188),(.447,4194),(.423,4230),(.48,4248),(.24,4297),(.307,4327),(.358,4324),(.383,4330),(.435,4338),(.453,4390),(.658,4333),(.70,4346),(.855,4534),(.493,4550),(.524,4586),(.54,4583),(.769,4588),(.541,4741),(.753,4708),(.732,4765),(.859,4754),(.853,4776),(.887,4762),(.826,4798),(.45,4830),(.631,4860),(.663,4838),(.432,4923),(.873,4874),(.682,4904),(.602,4999),(.81,4939),(.916,5015),(.792,5067),(.87,5056),(.886,5067),(.839,5097),(.893,5100),(.909,5089),(.836,5148),(.853,5184),(.884,5168),(.877,5227),(.809,5238),(.875,5285),(.933,5317),(.798,5320),(.697,5401),(.744,5377),(.805,5393),(.903,5603),(.844,5779),(.871,5785),(.808,5831),(.862,5888),(.841,5915),(.798,6016),(.849,6043),(.767,6100),(.81,6166),(.767,6212),(.761,6258),(.828,6340),(.79,6516),(.813,6516)]

# panel D
inc_d = [(.403,15052),(.444,15711),(.077,15803),(.278,15988),(.533,16058),(.268,16266),(.168,16543),(.627,16416),(.473,16347),(.448,16486),(.399,16532),(.417,16474),(.487,16543),(.506,16670),(.422,16751),(.475,16786),(.285,16786),(.326,16775),(.358,16855),(.651,16809),(.70,16925),(.541,16948),(.51,16994),(.385,16948),(.407,17006),(.447,17029),(.352,16948),(.336,17110),(.429,17191),(.732,17191),(.358,17248),(.585,17156),(.473,17295),(.408,17353),(.504,17364),(.617,17399),(.721,17410),(.533,17457),(.425,17514),(.374,17595),(.472,17607),(.742,17630),(.729,17688),(.337,17699),(.566,17711),(.577,17688),(.657,17711),(.642,17792),(.453,17873),(.582,17861),(.479,17965),(.572,18035),(.717,18069),(.651,18069),(.503,18127),(.617,18127),(.632,18092),(.683,18092),(.577,18092),(.587,18266),(.602,18324),(.622,18266),(.638,18301),(.526,18301),(.754,18301),(.673,18324),(.688,18382),(.663,18439),(.683,18555),(.658,18578),(.632,18613),(.747,18590),(.772,18601),(.759,18728),(.886,18821),(.726,18786),(.726,18959),(.70,18890),(.45,18925),(.77,18959),(.745,19075),(.804,18982),(.66,19087),(.503,19075),(.78,19202),(.598,19214),(.662,19225),(.849,19202),(.823,19283),(.82,19422),(.859,19445),(.629,19480),(.732,19433),(.662,19537),(.815,19595),(.622,19699),(.541,19618),(.915,19641),(.773,19780),(.785,19873),(.575,19954),(.749,19907),(.829,19919),(.856,20034),(.836,20150),(.846,20231),(.887,20231),(.809,20231),(.869,20358),(.659,20335),(.706,20347),(.726,20242),(.721,20404),(.754,20289),(.744,20439),(.606,20497),(.798,20485),(.682,20647),(.768,20612),(.854,20693),(.835,20774),(.725,20832),(.473,20878),(.562,20855),(.876,20867),(.886,20878),(.792,20786),(.764,20924),(.798,20982),(.697,21017),(.908,21075),(.712,21156),(.524,21098),(.513,21213),(.596,21156),(.635,21190),(.54,21329),(.563,21295),(.846,21225),(.805,21213),(.805,21387),(.876,21422),(.743,21410),(.81,21653),(.828,21607),(.849,21873),(.859,21884),(.709,21873),(.70,22046),(.431,21965),(.655,22219),(.903,22277),(.79,22300),(.664,22578),(.653,22670),(.491,22636),(.856,22659),(.81,23040),(.886,23560),(.825,24265),(.844,24427),(.719,24901),(.723,25109),(.872,25028),(.862,27918)]
dec_d = [(.289,15295),(.435,15977),(.24,16960),(.309,16786),(.383,17191),(.77,18900),(.932,21248),(.896,22936),(.771,25282)]

# panel F
inc_f = [(.403,1393),(.444,1461),(.077,1511),(.279,1500),(.269,1521),(.533,1483),(.417,1501),(.651,1511),(.701,1531),(.627,1555),(.488,1539),(.505,1554),(.447,1562),(.429,1567),(.475,1566),(.168,1587),(.352,1576),(.325,1593),(.407,1585),(.478,1588),(.493,1576),(.511,1576),(.503,1597),(.574,1580),(.586,1576),(.729,1585),(.651,1598),(.412,1612),(.422,1603),(.355,1613),(.285,1617),(.446,1616),(.385,1618),(.73,1621),(.754,1613),(.742,1627),(.499,1626),(.532,1624),(.539,1634),(.336,1642),(.617,1639),(.641,1638),(.649,1626),(.566,1648),(.579,1644),(.408,1649),(.674,1647),(.373,1661),(.474,1653),(.527,1657),(.593,1663),(.426,1663),(.656,1666),(.474,1672),(.454,1679),(.619,1678),(.634,1678),(.584,1686),(.771,1678),(.685,1682),(.668,1691),(.609,1703),(.718,1705),(.728,1713),(.48,1710),(.632,1715),(.67,1709),(.747,1720),(.779,1717),(.503,1733),(.631,1734),(.675,1728),(.617,1740),(.625,1744),(.57,1743),(.802,1737),(.337,1748),(.523,1750),(.825,1756),(.756,1758),(.66,1755),(.68,1746),(.658,1790),(.684,1780),(.695,1775),(.768,1780),(.82,1805),(.724,1808),(.746,1812),(.848,1812),(.886,1820),(.804,1820),(.598,1809),(.603,1824),(.662,1827),(.662,1849),(.701,1842),(.814,1865),(.859,1865),(.449,1860),(.63,1880),(.504,1895),(.575,1906),(.622,1908),(.772,1905),(.783,1918),(.846,1907),(.731,1922),(.541,1947),(.83,1961),(.843,1961),(.855,1953),(.725,1972),(.749,1973),(.743,1986),(.753,1988),(.659,1994),(.856,1991),(.807,2003),(.841,2008),(.852,2020),(.606,2018),(.843,2027),(.682,2030),(.725,2045),(.722,2058),(.874,2053),(.791,2048),(.798,2060),(.768,2058),(.833,2074),(.846,2069),(.523,2079),(.564,2071),(.562,2091),(.473,2108),(.539,2105),(.596,2101),(.634,2096),(.707,2101),(.694,2111),(.713,2124),(.761,2108),(.768,2115),(.809,2104),(.801,2116),(.799,2130),(.791,2145),(.743,2139),(.513,2145),(.846,2151),(.857,2149),(.873,2164),(.708,2158),(.828,2186),(.858,2195),(.70,2199),(.811,2211),(.808,2238),(.656,2247),(.664,2253),(.653,2267),(.432,2261),(.886,2282),(.491,2311),(.79,2307),(.826,2386),(.843,2467),(.873,2511),(.871,2574),(.718,2545),(.722,2557),(.862,2791)]
dec_f = [(.289,1448),(.434,1531),(.359,1592),(.398,1591),(.308,1611),(.383,1643),(.239,1641),(.719,1576),(.771,1775),(.915,1907),(.869,1947),(.887,1959),(.887,2033),(.907,2055),(.876,2114),(.932,2114),(.902,2248),(.896,2384),(.771,2572)]

# panel H
inc_h = [(.694,.033),(.784,.054),(.674,.159),(.701,.183),(.755,.144),(.541,.213),(.623,.252),(.682,.297),(.417,.312),(.732,.345),(.796,.375),(.606,.402),(.428,.42),(.472,.42),(.594,.444),(.575,.48),(.657,.453),(.702,.417),(.908,.456),(.847,.51),(.488,.516),(.423,.543),(.587,.549),(.524,.573),(.534,.573),(.451,.594),(.761,.576),(.626,.636),(.278,.657),(.684,.66),(.239,.69),(.66,.693),(.663,.708),(.792,.699),(.725,.711),(.167,.735),(.697,.729),(.326,.726),(.358,.756),(.426,.75),(.335,.774),(.502,.771),(.542,.774),(.724,.759),(.773,.753),(.373,.825),(.409,.852),(.409,.876),(.505,.87),(.73,.849),(.267,.909),(.284,.921),(.352,.927),(.628,.927),(.723,.933),(.814,.921),(.479,1.02),(.563,1.05),(.564,1.092),(.805,1.104),(.444,1.119),(.353,1.149),(.65,1.197),(.564,1.227),(.742,1.242),(.634,1.374),(.618,1.386),(.652,1.374),(.54,1.398),(.653,1.437),(.473,1.425),(.876,1.449),(.336,1.50),(.709,1.506),(.57,1.524),(.829,1.53),(.618,1.605),(.669,1.653),(.746,1.65),(.719,1.701),(.661,1.719),(.627,1.764),(.896,1.824),(.809,1.833),(.608,1.911),(.633,1.911),(.682,1.965),(.717,1.965),(.753,1.992),(.856,1.965),(.635,2.043),(.51,2.076),(.679,2.22),(.656,2.271),(.585,2.292),(.701,2.34),(.749,2.346),(.637,2.367),(.669,2.502),(.576,2.523),(.433,2.55),(.472,2.6),(.596,2.616),(.683,3.047),(.504,3.284),(.513,3.461),(.805,3.698)]
dec_h = [(.779,.006),(.526,.072),(.869,.126),(.729,.159),(.768,.27),(.767,.309),(.847,.267),(.771,.351),(.889,.354),(.75,.378),(.577,.414),(.81,.438),(.40,.45),(.358,.462),(.63,.444),(.828,.495),(.289,.513),(.65,.525),(.662,.561),(.804,.549),(.446,.543),(.436,.582),(.723,.588),(.403,.621),(.475,.609),(.505,.615),(.744,.627),(.855,.63),(.384,.687),(.077,.687),(.708,.696),(.498,.798),(.812,.789),(.792,.837),(.798,.885),(.884,.87),(.849,.897),(.382,.966),(.454,.954),(.662,.924),(.744,.942),(.724,.99),(.80,.969),(.853,.975),(.843,1.011),(.721,1.08),(.308,1.104),(.79,1.131),(.877,1.116),(.903,1.119),(.853,1.161),(.658,1.176),(.722,1.17),(.642,1.221),(.713,1.212),(.825,1.221),(.933,1.242),(.534,1.266),(.582,1.278),(.769,1.257),(.87,1.293),(.888,1.308),(.886,1.35),(.489,1.332),(.86,1.446),(.771,1.476),(.826,1.488),(.864,1.512),(.62,1.581),(.822,1.602),(.873,1.587),(.916,1.71),(.524,1.827),(.874,1.80),(.839,1.851),(.889,1.893),(.493,1.962),(.599,1.932),(.81,1.941),(.821,1.914),(.845,1.959),(.859,2.04),(.848,2.064),(.835,2.082),(.448,2.622),(.768,2.604),(.673,2.628),(.664,2.757),(.746,3.552),(.755,3.714)]

# country labels: text, x, y, colour key
lab_b = [("Timor\u2212Leste",.418,3245,'n'),("Lao People's Democratic Republic",.666,3397,'n'),("Cambodia",.448,3685,'n'),("Niger",.194,4050,'n'),("Somalia",.052,4273,'n'),
 ("United Kingdom",.883,5328,'r'),("Lithuania",.786,5494,'r'),("Germany",.972,5532,'r'),("Japan",.895,5703,'r'),("Slovenia",.719,5660,'k'),("United States of America",.886,5804,'k'),("Croatia",.667,5823,'k'),
 ("Bulgaria",.726,5975,'k'),("United States of America",.832,5975,'r'),("New Zealand",.945,5975,'k'),("New Zealand",.945,5975,'r'),("Bosnia and Herzegovina",.514,6117,'k'),("Romania",.74,6128,'k'),("Slovakia",.877,6128,'k'),
 ("Albania",.661,6277,'k'),("Montenegro",.916,6280,'k'),("Serbia",.772,6345,'k'),("Ukraine",.66,6427,'k'),("Czechia",.884,6427,'k'),("Poland",.87,6576,'k'),("Hungary",.75,6611,'k')]
seg_b = [((.778,5660),(.839,5905)),((.716,5828),(.798,6013)),((.668,6111),(.721,6060)),((.747,6021),(.767,6100)),((.839,6272),(.798,6190)),((.776,6310),(.788,6209)),((.714,6427),(.76,6272))]
lab_d = [("Somalia",.103,15457,'n'),("Eritrea",.428,14682,'n'),("Timor\u2212Leste",.497,15364,'n'),("Burundi",.262,15665,'n'),("Niger",.194,16197,'n'),("Bangladesh",.466,22277,'k'),("Mexico",.689,22231,'k'),("Singapore",.828,22312,'k'),("Denmark",.921,22578,'r'),("Brazil",.495,23005,'k'),("Brunei Darussalam",.675,23341,'k'),("Denmark",.958,23306,'k'),
 ("Greenland",.724,23953,'k'),("Republic of Korea",.927,23953,'k'),("Republic of Korea",.861,23953,'r'),("Uruguay",.656,24566,'k'),("Australia",.79,24809,'k'),("Japan",.847,24682,'r'),("Japan",.912,24659,'k'),("Argentina",.685,25491,'k'),("Chile",.801,25641,'k'),("Canada",.90,25422,'r'),("Canada",.909,25422,'k'),("United States of America",.882,27572,'r'),("United States of America",.836,28300,'k')]
seg_d = [((.538,23005),(.653,22659)),((.78,23953),(.823,24242))]
lab_f = [("Somalia",.102,1473,'n'),("Eritrea",.429,1357,'n'),("Timor\u2212Leste",.495,1423,'n'),("Burundi",.263,1491,'n'),("Niger",.142,1628,'n'),("Nepal",.407,2223,'k'),("Mexico",.62,2203,'k'),("Hungary",.738,2271,'k'),("Republic of Korea",.924,2243,'k'),("Brazil",.626,2307,'k'),("Republic of Korea",.86,2320,'r'),("Bangladesh",.493,2350,'k'),("Greenland",.779,2348,'k'),("Denmark",.922,2347,'k'),("Denmark",.966,2404,'r'),("Australia",.817,2430,'k'),("Canada",.898,2472,'r'),("Uruguay",.692,2505,'k'),("Canada",.933,2547,'k'),("Argentina",.685,2596,'k'),("Chile",.802,2612,'k'),("Japan",.898,2614,'k'),("Japan",.846,2614,'r'),("United States of America",.835,2832,'k'),("United States of America",.835,2832,'r')]
lab_h = [("Ethiopia",.294,.381,'n'),("Madagascar",.436,.366,'n'),("Somalia",.05,.594,'n'),("Burundi",.263,.609,'n'),("Niger",.193,.837,'n'),("Ireland",.848,1.707,'r'),("Denmark",.964,1.839,'r'),("Lithuania",.804,1.872,'r'),("Netherlands",.967,1.998,'r'),("United Kingdom",.80,2.157,'r'),("Nepal",.405,2.457,'k'),("Bhutan",.504,2.508,'k'),("India",.599,2.433,'k'),("Grenada",.701,2.409,'k'),("Trinidad and Tobago",.892,2.508,'k'),("Haiti",.204,2.727,'k'),("Venezuela (Bolivarian Republic of)",.452,2.721,'k'),("Saint Lucia",.752,2.715,'k'),("Mexico",.682,2.874,'k'),("Jamaica",.746,3.038,'k'),("Pakistan",.477,3.194,'k'),("Honduras",.576,3.368,'k'),("Barbados",.72,3.458,'k'),("Bahamas",.854,3.605,'k'),("Saint Kitts and Nevis",.727,3.809,'k')]
seg_h = [((.236,2.727),(.448,2.619))]

W, H = 1561, 2599
RED, CYAN = '#E8432B', '#41B7D4'
GRID = '#EBEBEB'
LAB_COL = {'n': '#1B1B78', 'r': '#7B1A1E', 'k': '#111111'}
year_cmap = LinearSegmentedColormap.from_list('year', ['#5BB5D6', '#4A8FC6', '#3A6CBB', '#1C44AC'])
year_norm = Normalize(1989.7, 2020.7)

fig = plt.figure(figsize=(W / 100, H / 100), dpi=100, facecolor='white')


def px_axes(left, top, right, bottom):
    return fig.add_axes([left / W, 1 - bottom / H, (right - left) / W, (bottom - top) / H])


def style(ax, ylim, yticks, yminor, xlim):
    ax.set_xlim(*xlim)
    ax.set_ylim(*ylim)
    ax.set_xticks(np.arange(0, 1.01, .2))
    ax.set_xticks(np.arange(.1, 1, .2), minor=True)
    ax.set_yticks(yticks)
    ax.set_yticks(yminor, minor=True)
    ax.grid(True, which='major', color=GRID, lw=1.6)
    ax.grid(True, which='minor', color=GRID, lw=1.0)
    ax.set_axisbelow(True)
    ax.tick_params(which='major', labelsize=11.5, length=3.5, width=1, color='#222222', labelcolor='#111111', pad=3)
    ax.tick_params(which='minor', length=0)
    for s in ax.spines.values():
        s.set_linewidth(1.5)
        s.set_color('#222222')
    ax.set_xlabel('SDI', fontsize=13.5, labelpad=5, color='#111111')


def draw_paths(ax, paths, dots):
    # one straight piece per pair of read points, shaded by the later point's year
    segs, cols = [], []
    for p in paths:
        yrs = np.linspace(1990, 2019, len(p))
        for i in range(len(p) - 1):
            segs.append([p[i], p[i + 1]])
            cols.append(year_cmap(year_norm(yrs[i + 1] - (yrs[i + 1] - yrs[i]) * .2)))
    ax.add_collection(LineCollection(segs, colors=cols, linewidths=7, capstyle='round', zorder=2))
    ax.scatter([d[0] for d in dots], [d[1] for d in dots], color=year_cmap(.8), s=52, linewidths=0, zorder=2)


def draw_curve(ax, curve):
    ax.plot([c[0] for c in curve], [c[1] for c in curve], color='black', lw=2.6, zorder=4, solid_capstyle='butt')


def draw_points(ax, inc, dec, labels, segs):
    ax.scatter([d[0] for d in dec], [d[1] for d in dec], color=RED, s=75, linewidths=0, zorder=3)
    ax.scatter([d[0] for d in inc], [d[1] for d in inc], color=CYAN, s=75, linewidths=0, zorder=3)
    for a, b in segs:
        ax.plot([a[0], b[0]], [a[1], b[1]], color='black', lw=1.1, zorder=4)
    for t, x, y, c in labels:
        ax.text(x, y, t, color=LAB_COL[c], fontsize=9, fontweight='bold', ha='center', va='center', zorder=5, clip_on=False)


def year_bar(left, top, right, bottom):
    cax = px_axes(left, top, right, bottom)
    cb = fig.colorbar(ScalarMappable(norm=year_norm, cmap=year_cmap), cax=cax, ticks=[1990, 2000, 2010, 2020])
    cb.outline.set_visible(False)
    cax.tick_params(length=0, labelsize=11.5, pad=6.5, labelcolor='#111111')
    for v in [1990, 2000, 2010, 2020]:
        cax.plot([0, .2], [v, v], color='white', lw=1, transform=cax.get_yaxis_transform())
        cax.plot([.8, 1], [v, v], color='white', lw=1, transform=cax.get_yaxis_transform())
    fig.text(left / W, 1 - (top - 18) / H, 'Year', fontsize=14, va='center', ha='left', color='#111111')


def trend_key(title_x, title_y, mark_x, y0, y1, text_x):
    fig.text(title_x / W, 1 - title_y / H, 'Trend', fontsize=14, va='center', ha='left', color='#111111')
    for y, col, name in [(y0, RED, 'Decrease'), (y1, CYAN, 'Increase')]:
        fig.add_artist(Line2D([mark_x / W], [1 - y / H], marker='o', ms=8.6, mfc=col, mec=col, mew=0, ls='none', transform=fig.transFigure))
        fig.text(text_x / W, 1 - y / H, name, fontsize=12, va='center', ha='left', color='#111111')


def side_text(x, y, txt, size):
    fig.text(x / W, 1 - y / H, txt, rotation=90, fontsize=size, ha='center', va='center', color='#111111')


def letter(x, y, t):
    fig.text(x / W, 1 - y / H, t, fontsize=17, fontweight='bold', ha='center', va='center', color='black')


# A
ax = px_axes(104.5, 32, 652, 596)
style(ax, (6745, 2980), [3000, 4000, 5000, 6000], [3500, 4500, 5500, 6500], (-.05, 1.049))
draw_paths(ax, traj_a, dots_a)
draw_curve(ax, curve_inc)
year_bar(683, 250, 714, 407)
side_text(34, 300.6, 'Age standardized incidence rate, per 100 000', 14.3)
letter(19, 23, 'A')

# B
ax = px_axes(858.6, 32, 1406, 596)
style(ax, (6685, 2990), [3000, 4000, 5000, 6000], [3500, 4500, 5500, 6500], (-.049, 1.049))
draw_curve(ax, curve_inc)
draw_points(ax, inc_b, dec_b, lab_b, seg_b)
trend_key(1437, 278, 1452, 313, 344, 1477)
side_text(790, 300.6, 'Age standardized incidence rate, per 100 000', 14.3)
letter(799, 19, 'B')

# C
ax = px_axes(99.5, 685, 652, 1247)
style(ax, (28624, 12936), [16000, 20000, 24000, 28000], [14000, 18000, 22000, 26000], (-.049, 1.049))
draw_paths(ax, traj_c, dots_c)
draw_curve(ax, curve_prev)
year_bar(668, 901, 699, 1058)
side_text(20, 961, 'Age standardized prevalence rate, per 100 000', 14.3)
letter(19, 675, 'C')

# D
ax = px_axes(853.5, 685, 1406, 1247)
style(ax, (28624, 12936), [16000, 20000, 24000, 28000], [14000, 18000, 22000, 26000], (-.05, 1.049))
draw_curve(ax, curve_prev)
draw_points(ax, inc_d, dec_d, lab_d, seg_d)
trend_key(1421.6, 930, 1437, 965, 996, 1462)
side_text(778, 961, 'Age standardized prevalence rate, per 100 000', 14.3)
letter(799, 673, 'D')

# E
ax = px_axes(97, 1336, 652, 1899)
style(ax, (2826, 1174), [1500, 2000, 2500], [1250, 1750, 2250, 2750], (-.05, 1.049))
draw_paths(ax, traj_e, dots_e)
draw_curve(ax, curve_daly)
year_bar(675, 1553, 706, 1710)
side_text(27, 1606, 'Age standardized DALYs rate, per 100 000', 13.1)
letter(19, 1329, 'E')

# F
ax = px_axes(851.4, 1336, 1406, 1899)
style(ax, (2866, 1175), [1500, 2000, 2500], [1250, 1750, 2250, 2750], (-.049, 1.049))
draw_curve(ax, curve_daly)
draw_points(ax, inc_f, dec_f, lab_f, [])
trend_key(1429, 1582, 1444, 1617, 1648, 1470)
side_text(783, 1606, 'Age standardized DALYs rate, per 100 000', 13.1)
letter(798, 1325, 'F')

# G
ax = px_axes(92, 1985, 652, 2546.5)
style(ax, (5.047, -.225), [0, 1, 2, 3, 4, 5], [.5, 1.5, 2.5, 3.5, 4.5], (-.05, 1.048))
draw_paths(ax, traj_g, dots_g)
draw_curve(ax, curve_mort)
year_bar(690, 2201, 720, 2358.5)
side_text(32, 2266, 'Age standardized mortality rate, per 100 000', 13.9)
letter(20, 1977, 'G')

# H
ax = px_axes(837.6, 1985, 1412, 2546.5)
style(ax, (3.896, -.174), [0, 1, 2, 3], [.5, 1.5, 2.5, 3.5], (-.05, 1.05))
draw_curve(ax, curve_mort)
draw_points(ax, inc_h, dec_h, lab_h, seg_h)
trend_key(1443.5, 2230, 1458, 2264, 2296, 1483)
side_text(798, 2273, 'Age standardized mortality rate, per 100 000', 13.9)
letter(799, 1973, 'H')

fig.savefig('out.png', dpi=100, facecolor='white')
